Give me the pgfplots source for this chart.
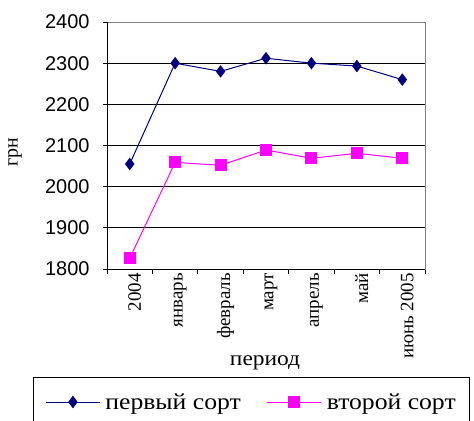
\documentclass[border=0pt]{standalone}
\usepackage{pgfplots}
\pgfplotsset{compat=1.18}
\usepackage{fontspec}
\setmainfont{Liberation Serif}
\newfontfamily\sansf{Liberation Sans}
\newfontfamily\widef[FakeStretch=1.12]{Liberation Serif}
\definecolor{navyc}{RGB}{0,0,128}
\definecolor{magc}{RGB}{255,0,255}
\definecolor{bordc}{RGB}{128,128,128}
\begin{document}
\begin{tikzpicture}[x=1bp,y=1bp]
\useasboundingbox (0,0) rectangle (474,420);
\begin{axis}[
  at={(107bp,151bp)}, anchor=south west,
  scale only axis, width=318bp, height=247bp,
  xmin=-0.5, xmax=6.5, ymin=1800, ymax=2400,
  xtick={0,...,6},
  xticklabels={2004,январь,февраль,март,апрель,май,июнь 2005},
  minor xtick={-0.5,0.5,...,6.5},
  major x tick style={draw=none},
  minor tick length=5bp,
  xtick pos=bottom,
  x tick label style={rotate=90, anchor=east, font=\fontsize{19}{20}\selectfont, inner sep=0pt, yshift=-5bp},
  ytick={1800,1900,...,2400},
  ytick pos=left,
  tick align=outside,
  major tick length=4bp,
  y tick label style={font=\sansf\fontsize{20}{22}\selectfont},
  /pgf/number format/assume math mode=true,
  /pgf/number format/1000 sep={},
  yticklabel style={xshift=-10bp},
  ymajorgrids,
  grid style={black, line width=1pt},
  axis line style={bordc, line width=1pt},
  tick style={black, line width=1pt},
  every axis y label/.style={at={(rel axis cs:-0.289,0.474)}, rotate=90, anchor=center, font=\fontsize{20}{22}\selectfont},
  ylabel={грн},
  every axis x label/.style={at={(rel axis cs:0.497,-0.38)}, anchor=center, font=\widef\fontsize{21}{24}\selectfont},
  xlabel={период},
  legend columns=2,
  legend style={at={(rel axis cs:-0.233,-0.437)}, anchor=north west, draw=black, line width=1pt,
    font=\widef\fontsize{23}{25}\selectfont, inner xsep=12bp, inner ysep=14bp,
    /tikz/every odd column/.append style={column sep=3bp},
    /tikz/every even column/.append style={column sep=24bp}},
  legend image code/.code={\draw[#1] (0bp,0bp) -- (27bp,0bp) -- (54bp,0bp); \draw[#1] plot coordinates {(27bp,0bp)};},
]
\addplot[color=navyc, line width=1pt, mark=diamond*, mark size=5.5bp, mark options={solid, fill=navyc}]
  coordinates {(0,2055) (1,2300) (2,2280) (3,2312) (4,2300) (5,2293) (6,2260)};
\addlegendentry{первый сорт}
\addplot[color=magc, line width=1pt, mark=square*, mark size=5.5bp, mark options={solid, fill=magc}]
  coordinates {(0,1826) (1,2059) (2,2052) (3,2089) (4,2069) (5,2081) (6,2069)};
\addlegendentry{второй сорт}
\draw[black, line width=1pt] (rel axis cs:0,1) -- (rel axis cs:0,0) -- (rel axis cs:1,0);
\end{axis}
\end{tikzpicture}
\end{document}
